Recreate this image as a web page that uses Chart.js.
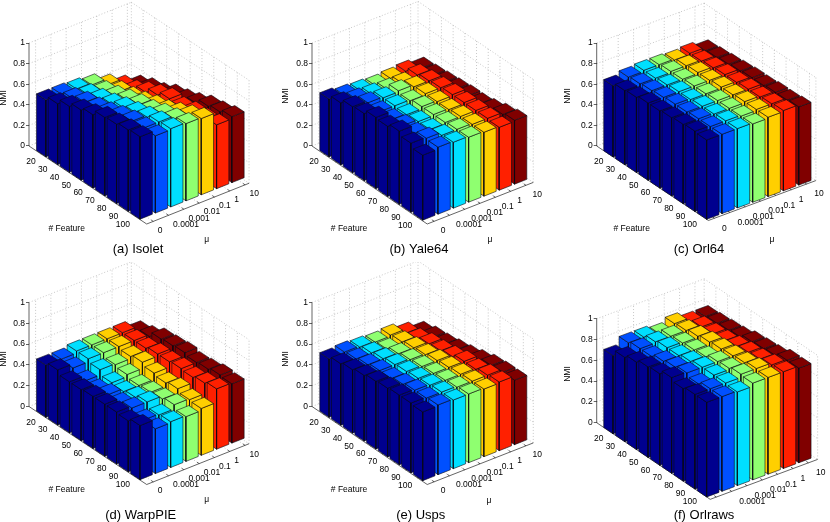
<!DOCTYPE html>
<html>
<head>
<meta charset="utf-8">
<script src="https://cdn.jsdelivr.net/npm/chart.js@4"></script>
<style>
html, body { margin: 0; padding: 0; background: #fff; }
#page { position: relative; width: 830px; height: 522px; overflow: hidden; }
canvas { position: absolute; }
</style>
</head>
<body>
<div id="page"></div>
<script>
const featureLabels = ['20', '30', '40', '50', '60', '70', '80', '90', '100'];
const muLabels = ['0', '0.0001', '0.001', '0.01', '0.1', '1', '10'];
const nmiTicks = [0, 0.2, 0.4, 0.6, 0.8, 1];
const barColors = ['#00008f', '#0050ff', '#00dfff', '#8fff70', '#ffcf00', '#ff2000', '#800000'];

// one row per # Feature, one value per mu
const isolet = [
    [.55, .55, .54, .52, .46, .39, .33],
    [.59, .58, .56, .53, .47, .42, .38],
    [.64, .62, .59, .56, .49, .48, .41],
    [.68, .64, .62, .60, .52, .53, .47],
    [.71, .67, .66, .63, .56, .57, .50],
    [.76, .71, .69, .65, .59, .56, .54],
    [.77, .74, .72, .69, .64, .59, .59],
    [.79, .75, .75, .72, .69, .60, .61],
    [.80, .75, .76, .75, .74, .62, .64]
];
const yale64 = [
    [.56, .54, .53, .52, .53, .54, .51],
    [.60, .58, .57, .56, .56, .58, .52],
    [.64, .62, .61, .62, .60, .60, .53],
    [.65, .61, .61, .60, .61, .61, .54],
    [.69, .61, .60, .62, .61, .62, .55],
    [.68, .63, .61, .62, .61, .62, .55],
    [.71, .63, .61, .62, .62, .62, .57],
    [.67, .66, .63, .63, .62, .62, .60],
    [.63, .65, .64, .63, .62, .61, .62]
];
const orl64 = [
    [.69, .72, .73, .73, .72, .73, .70],
    [.72, .73, .73, .74, .74, .73, .71],
    [.73, .74, .74, .74, .75, .74, .72],
    [.75, .75, .75, .75, .75, .75, .73],
    [.75, .76, .75, .75, .76, .75, .74],
    [.76, .76, .76, .76, .76, .76, .74],
    [.77, .77, .76, .76, .77, .76, .75],
    [.78, .77, .77, .76, .77, .77, .75],
    [.77, .77, .77, .76, .77, .78, .76]
];
const warpPie = [
    [.50, .50, .52, .52, .52, .52, .47],
    [.53, .49, .52, .52, .52, .52, .50],
    [.49, .44, .49, .48, .50, .52, .55],
    [.49, .43, .44, .46, .52, .54, .56],
    [.50, .46, .43, .43, .49, .54, .57],
    [.50, .45, .45, .44, .47, .55, .55],
    [.50, .48, .48, .45, .49, .54, .56],
    [.49, .44, .43, .47, .46, .56, .58],
    [.52, .43, .44, .43, .45, .58, .57]
];
const usps = [
    [.56, .57, .56, .55, .56, .52, .47],
    [.59, .58, .58, .56, .57, .54, .50],
    [.61, .60, .60, .59, .59, .57, .51],
    [.63, .62, .62, .61, .60, .58, .53],
    [.65, .62, .63, .62, .62, .60, .55],
    [.66, .64, .64, .63, .63, .63, .58],
    [.67, .66, .65, .64, .64, .63, .61],
    [.67, .66, .66, .65, .65, .65, .62],
    [.66, .67, .66, .66, .65, .66, .62]
];
const orlraws = [
    [.75, .82, .82, .80, .84, .80, .80],
    [.81, .84, .85, .85, .85, .83, .81],
    [.84, .84, .87, .86, .87, .84, .82],
    [.87, .87, .87, .87, .89, .85, .83],
    [.88, .89, .89, .88, .90, .87, .86],
    [.92, .91, .91, .91, .91, .89, .87],
    [.89, .88, .91, .92, .92, .90, .88],
    [.91, .91, .91, .94, .94, .92, .91],
    [.91, .91, .90, .93, .93, .93, .91]
];

const viewA = { fx: 11.77, fy: 7.8, mx: 15.3, my: 6.09, rEnd: 10, c0: .57, cEnd: 7.26, muDx: 0, muDy: 0 };
const viewB = { fx: 11.7, fy: 7.92, mx: 15.3, my: 6.0, rEnd: 9.85, c0: .55, cEnd: 7.48, muDx: 2, muDy: 0 };
const viewC = { fx: 11.7, fy: 7.8, mx: 15.35, my: 5.7, rEnd: 9.55, c0: .6, cEnd: 7.6, muDx: 3, muDy: 1 };
const viewF = { fx: 11.7, fy: 7.9, mx: 15.35, my: 5.7, rEnd: 9.7, c0: .6, cEnd: 7.6, muDx: 3, muDy: 1 };

const panels = [
    { values: isolet, view: viewA, box: [0, 0, 280, 262], ox: 29, oy: 146, unit: 103, caption: '(a) Isolet', capAt: [138, 249], nmiAt: [4, 98], featAt: [66.7, 229], muAt: [206.7, 240] },
    { values: yale64, view: viewB, box: [280, 0, 275, 262], ox: 312, oy: 146, unit: 103, caption: '(b) Yale64', capAt: [419, 249], nmiAt: [286, 96], featAt: [349, 229], muAt: [490, 240] },
    { values: orl64, view: viewC, box: [555, 0, 275, 262], ox: 596.7, oy: 146, unit: 103, caption: '(c) Orl64', capAt: [699, 249], nmiAt: [568, 96], featAt: [631.7, 229], muAt: [772, 240] },
    { values: warpPie, view: viewA, box: [0, 262, 280, 260], ox: 29, oy: 406.5, unit: 104, caption: '(d) WarpPIE', capAt: [140.7, 515], nmiAt: [4, 359], featAt: [66.7, 489.7], muAt: [206.7, 500] },
    { values: usps, view: viewB, box: [280, 262, 275, 260], ox: 312, oy: 406.5, unit: 104, caption: '(e) Usps', capAt: [420.7, 515], nmiAt: [286, 359], featAt: [349, 489.7], muAt: [489, 501] },
    { values: orlraws, view: viewF, box: [555, 262, 275, 260], ox: 596.7, oy: 422.7, unit: 104, caption: '(f) Orlraws', capAt: [704, 515], nmiAt: [568, 374], hideZero: true }
];

const FONT = '"Liberation Sans", Arial, sans-serif';
const page = document.getElementById('page');

panels.forEach(panel => {
    const [left, top, w, h] = panel.box;
    const v = panel.view;
    const canvas = document.createElement('canvas');
    canvas.width = w;
    canvas.height = h;
    canvas.style.left = left + 'px';
    canvas.style.top = top + 'px';
    page.appendChild(canvas);

    // x stays in pixels from the axis corner, y stays in NMI units
    const at = (r, c, z) => ({
        x: r * v.fx + (c - v.c0) * v.mx,
        y: z - (r * v.fy - (c - v.c0) * v.my) / panel.unit
    });

    const faces = [];
    const line = (pts, color, width, dash) => faces.push({
        data: pts, showLine: true, fill: false, borderColor: color, borderWidth: width,
        borderDash: dash || [], pointRadius: 0, clip: false
    });
    const grid = (a, b) => line([a, b], '#b0b0b0', 0.7, [1, 2]);

    // back walls and floor grid
    nmiTicks.forEach(z => {
        grid(at(0, v.c0, z), at(0, v.cEnd, z));
        grid(at(0, v.cEnd, z), at(v.rEnd, v.cEnd, z));
    });
    for (let c = 1; c <= muLabels.length; c++) {
        grid(at(0, c, 0), at(0, c, 1));
        grid(at(0, c, 0), at(v.rEnd, c, 0));
    }
    for (let r = 1; r <= featureLabels.length; r++) {
        grid(at(r, v.cEnd, 0), at(r, v.cEnd, 1));
        grid(at(r, v.c0, 0), at(r, v.cEnd, 0));
    }
    grid(at(0, v.cEnd, 0), at(0, v.cEnd, 1));
    grid(at(v.rEnd, v.cEnd, 0), at(v.rEnd, v.cEnd, 1));

    // solid axes and their ticks
    line([at(0, v.c0, 0), at(0, v.c0, 1)], '#222', 0.7);
    line([at(0, v.c0, 0), at(v.rEnd, v.c0, 0), at(v.rEnd, v.cEnd, 0)], '#222', 0.7);
    for (let r = 1; r <= featureLabels.length; r++) {
        line([at(r, v.c0, 0), at(r, v.c0 + .14, 0)], '#222', 0.7);
    }
    for (let c = 1; c <= muLabels.length; c++) {
        line([at(v.rEnd, c, 0), at(v.rEnd - .18, c, 0)], '#222', 0.7);
    }

    // bars, back to front
    const half = 0.4;
    panel.values.forEach((row, i) => {
        const r = i + 1;
        for (let j = row.length - 1; j >= 0; j--) {
            const c = j + 1;
            const z = row[j];
            const r0 = r - half, r1 = r + half, c0 = c - half, c1 = c + half;
            const shapes = [
                [at(r1, c0, 0), at(r0, c0, 0), at(r0, c0, z), at(r1, c0, z), at(r1, c0, 0)],
                [at(r1, c0, 0), at(r1, c1, 0), at(r1, c1, z), at(r1, c0, z), at(r1, c0, 0)],
                [at(r1, c0, z), at(r1, c1, z), at(r0, c1, z), at(r0, c0, z), at(r1, c0, z)]
            ];
            shapes.forEach(pts => faces.push({
                data: pts, showLine: true, fill: 'shape', backgroundColor: barColors[j],
                borderColor: '#0a0a14', borderWidth: 0.6, pointRadius: 0, clip: false
            }));
        }
    });

    const labels = {
        id: 'panelLabels',
        afterDraw(chart) {
            const ctx = chart.ctx;
            const sx = chart.scales.x, sy = chart.scales.y;
            const text = (str, x, y, align, size) => {
                ctx.font = size + 'px ' + FONT;
                ctx.textAlign = align;
                ctx.textBaseline = 'middle';
                ctx.fillStyle = '#000';
                ctx.fillText(str, x, y);
            };
            const px = (p) => [sx.getPixelForValue(p.x), sy.getPixelForValue(p.y)];
            ctx.save();
            featureLabels.forEach((s, i) => {
                const [x, y] = px(at(i + 1, v.c0, 0));
                text(s, x - 5, y + 8, 'right', 8.5);
            });
            muLabels.forEach((s, i) => {
                if (panel.hideZero && i === 0) return;
                const [x, y] = px(at(v.rEnd, i + 1, 0));
                text(s, x + 4.5 + v.muDx, y + 9 + v.muDy, 'left', 8.5);
            });
            text(panel.caption, panel.capAt[0] - left, panel.capAt[1] - top, 'center', 13);
            if (panel.featAt) text('# Feature', panel.featAt[0] - left, panel.featAt[1] - top, 'center', 8.5);
            if (panel.muAt) text('\u03bc', panel.muAt[0] - left, panel.muAt[1] - top, 'center', 8.5);
            ctx.translate(panel.nmiAt[0] - left, panel.nmiAt[1] - top);
            ctx.rotate(-Math.PI / 2);
            text('NMI', 0, 0, 'center', 8.5);
            ctx.restore();
        }
    };

    new Chart(canvas, {
        type: 'scatter',
        data: { datasets: faces.reverse() },
        plugins: [labels],
        options: {
            responsive: false,
            animation: false,
            events: [],
            layout: { padding: 0 },
            plugins: { legend: { display: false }, tooltip: { enabled: false }, title: { display: false } },
            scales: {
                x: { display: false, type: 'linear', min: 0, max: w - (panel.ox - left) },
                y: {
                    type: 'linear',
                    min: (panel.oy - (top + h)) / panel.unit,
                    max: (panel.oy - top) / panel.unit,
                    afterBuildTicks: s => { s.ticks = nmiTicks.map(value => ({ value })); },
                    afterFit: s => { s.width = panel.ox - left; s.paddingTop = 0; s.paddingBottom = 0; },
                    border: { display: false },
                    grid: { drawOnChartArea: false, drawTicks: true, tickLength: 3, color: '#222', lineWidth: 0.7 },
                    ticks: {
                        autoSkip: false, maxRotation: 0, padding: 1, color: '#000',
                        font: { family: FONT, size: 8.5 },
                        callback: value => String(value)
                    }
                }
            }
        }
    });
});
</script>
</body>
</html>
